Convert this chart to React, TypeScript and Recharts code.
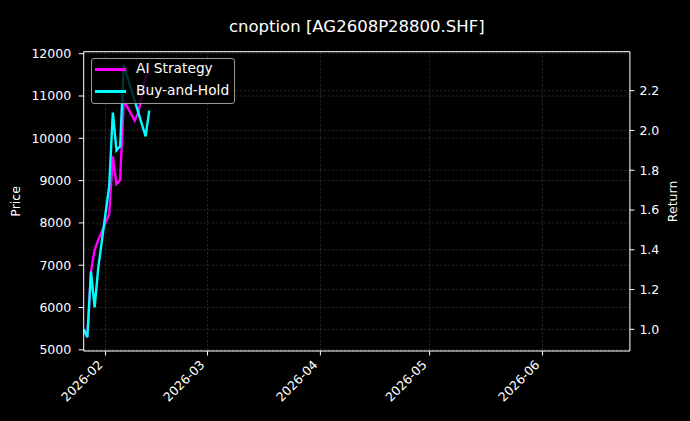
import React from 'react';
import { LineChart, Line, XAxis, YAxis, CartesianGrid, ReferenceLine, Customized } from 'recharts';

const dates = ['2026-01-26','2026-01-27','2026-01-28','2026-01-29','2026-01-30','2026-02-02','2026-02-03','2026-02-04','2026-02-05','2026-02-06','2026-02-09','2026-02-10','2026-02-11','2026-02-12','2026-02-13'];
const aiStrategy = [1.00,0.96,1.29,1.40,1.45,1.58,1.87,1.73,1.75,2.15,2.05,2.09,2.18,2.27,2.29];
const buyAndHold = [1.00,0.96,1.29,1.11,1.31,1.72,2.09,1.90,1.92,2.33,2.15,2.09,2.03,1.97,2.10];

const xDomainDates = ['2026-01-26','2026-06-25'];
const monthTickDates = ['2026-02-01','2026-03-01','2026-04-01','2026-05-01','2026-06-01'];
const monthTickLabels = ['2026-02','2026-03','2026-04','2026-05','2026-06'];
const priceTicks = [5000,6000,7000,8000,9000,10000,11000,12000];
const priceDomain = [4972, 12047];
const returnTicks = [1.0,1.2,1.4,1.6,1.8,2.0,2.2];
const returnDomain = [0.891, 2.396];

const title = 'cnoption [AG2608P28800.SHF]';
const seriesNames = ['AI Strategy','Buy-and-Hold'];
const seriesColors = ['#ff00ff','#00ffff'];

const ts = (s: string) => Date.parse(s + 'T00:00:00Z');
const data = dates.map((d, i) => ({ t: ts(d), ai: aiStrategy[i], bh: buyAndHold[i] }));
const monthTicks = monthTickDates.map(ts);
const labelFor = (v: number) => monthTickLabels[monthTicks.indexOf(v)] ?? '';

const W = 690, H = 421;
const FONT = 'DejaVu Sans, sans-serif';

const XTick = (props: any) => {
  const { x, y, payload } = props;
  const tx = x - 2, ty = y + 6.5;
  return (
    <text x={tx} y={ty} transform={`rotate(-45 ${tx} ${ty})`} textAnchor="end" fill="#ffffff" fontSize={12.5} fontFamily={FONT}>
      {labelFor(payload.value)}
    </text>
  );
};

const Labels = () => (
  <g fontFamily={FONT} fill="#ffffff">
    <text x={356.8} y={31.5} textAnchor="middle" fontSize={16.5}>{title}</text>
    <text x={20.5} y={201.4} transform="rotate(-90 20.5 201.4)" textAnchor="middle" fontSize={12.5}>Price</text>
    <text x={677} y={201.4} transform="rotate(-90 677 201.4)" textAnchor="middle" fontSize={12.5}>Return</text>
  </g>
);

export default function App() {
  const gridProps = { stroke: '#3c3c3c', strokeDasharray: '2.5 1.5', strokeWidth: 0.6 };
  return (
    <div style={{ position: 'fixed', inset: 0, background: '#000' }}>
      <div style={{ position: 'relative', width: W, height: H }}>
        <LineChart width={W} height={H} data={data} margin={{ top: 51.7, right: 0, bottom: 0, left: 0 }} style={{ background: '#000' }}>
          <CartesianGrid yAxisId="left" {...gridProps} horizontal={true} vertical={true} />
          <CartesianGrid yAxisId="right" {...gridProps} horizontal={true} vertical={false} />
          <XAxis dataKey="t" type="number" domain={xDomainDates.map(ts)} ticks={monthTicks} allowDataOverflow
            height={70} stroke="#ffffff" tickSize={4.5} tickMargin={3.5} tick={<XTick />} interval={0} />
          <YAxis yAxisId="left" orientation="left" type="number" domain={priceDomain} ticks={priceTicks} allowDataOverflow
            width={83.7} stroke="#ffffff" tickSize={5} tickMargin={7.5} interval={0}
            tick={{ fill: '#ffffff', fontSize: 12.5, fontFamily: FONT }} />
          <YAxis yAxisId="right" orientation="right" type="number" domain={returnDomain} ticks={returnTicks} allowDataOverflow
            width={60.1} stroke="#ffffff" tickSize={4.5} tickMargin={5} interval={0}
            tickFormatter={(v: number) => v.toFixed(1)}
            tick={{ fill: '#ffffff', fontSize: 12.5, fontFamily: FONT }} />
          <ReferenceLine yAxisId="left" y={priceDomain[1]} stroke="#ffffff" strokeWidth={1} ifOverflow="visible" />
          <Line yAxisId="right" dataKey="ai" name={seriesNames[0]} stroke={seriesColors[0]} strokeWidth={2.4} dot={false} isAnimationActive={false} />
          <Line yAxisId="right" dataKey="bh" name={seriesNames[1]} stroke={seriesColors[1]} strokeWidth={2.4} dot={false} isAnimationActive={false} />
          <Customized component={Labels} />
        </LineChart>
        <div style={{ position: 'absolute', left: 91, top: 58, width: 144, height: 46, boxSizing: 'border-box',
          background: 'rgba(0,0,0,0.8)', border: '1px solid #9a9a9a', borderRadius: 3, fontFamily: FONT, fontSize: 13.75, color: '#fff' }}>
          {seriesNames.map((n, i) => (
            <div key={n} style={{ position: 'absolute', left: 0, top: i === 0 ? 0 : 22, height: 22, width: '100%' }}>
              <div style={{ position: 'absolute', left: 3, top: 9, width: 31, height: 2.5, background: seriesColors[i] }} />
              <div style={{ position: 'absolute', left: 44, top: 1, lineHeight: '17px', whiteSpace: 'nowrap' }}>{n}</div>
            </div>
          ))}
        </div>
      </div>
    </div>
  );
}
